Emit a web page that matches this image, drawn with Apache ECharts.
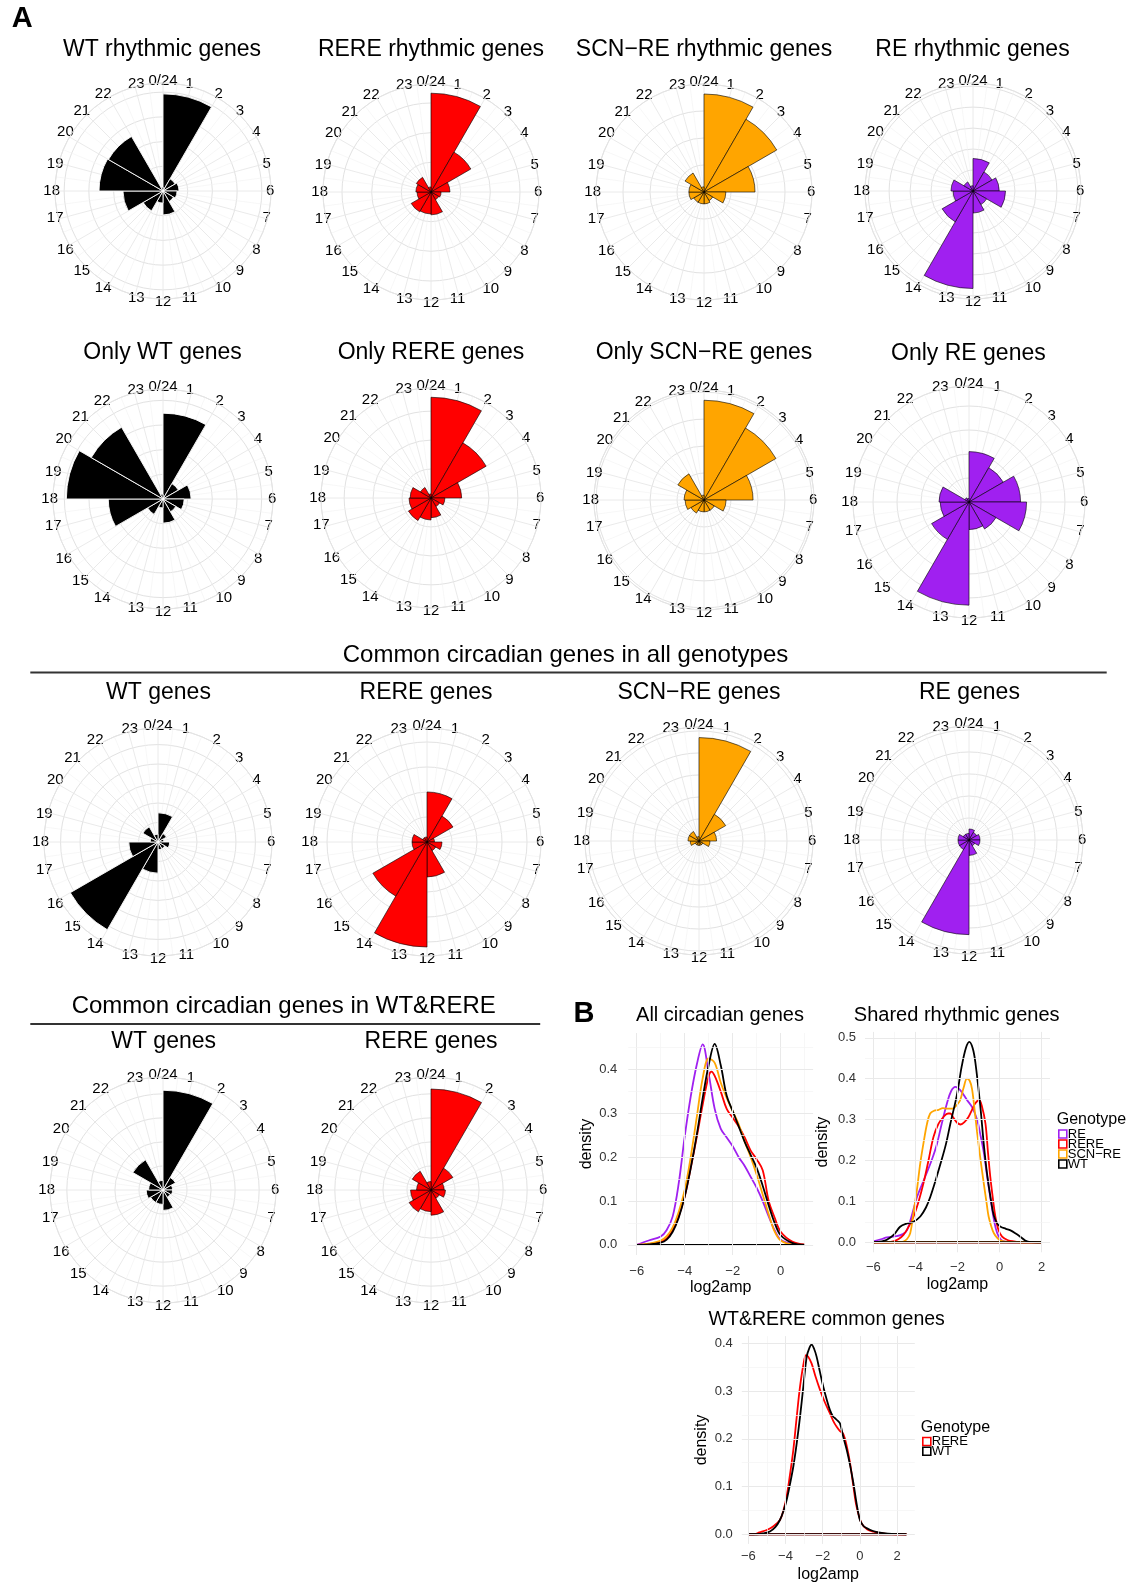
<!DOCTYPE html>
<html><head><meta charset="utf-8">
<script src="https://cdn.jsdelivr.net/npm/echarts@6/dist/echarts.min.js"></script>
<style>html,body{margin:0;padding:0;background:#fff}#c{width:1137px;height:1584px}</style>
</head><body><div id="c"></div>
<script>
// ---------- categories ----------
const hourBins = ['0-2','2-4','4-6','6-8','8-10','10-12','12-14','14-16','16-18','18-20','20-22','22-24'];
const genotypes = ['RE','RERE','SCN\u2212RE','WT'];

// ---------- rose data (gene counts per 2-h phase bin) ----------
const wtRhythmic   = [393, 57, 65, 57, 49, 97, 49, 93, 162, 259, 255, 16];
const rereRhythmic = [333,155, 64, 34, 30, 77, 74, 77, 47, 51, 57, 17];
const scnRhythmic  = [363,311,189, 81, 37, 44, 44, 44, 56, 56, 81, 19];
const reRhythmic   = [ 31, 21, 25, 31, 15, 21, 93, 34, 19, 21, 10,  5];
const onlyWT   = [174, 36, 57, 43, 30, 49, 18, 36,111,196,168, 10];
const onlyRERE = [174,110, 53, 24, 17, 34, 38, 45, 38, 36, 21,  7];
const onlySCN  = [185,154, 91, 41, 22, 22, 22, 28, 35, 37, 56,  9];
const onlyRE   = [ 42, 33, 43, 48, 26, 23, 86, 36, 24, 25,  4,  3];
const commonWT   = [15, 5, 3, 6, 4, 4,16,52,15, 4, 9, 4];
const commonRERE = [20,12, 3, 6, 4,14,42,25, 6, 6, 2, 2];
const commonSCN  = [47,14, 8, 5, 2, 2, 2, 2, 4, 5, 5, 2];
const commonRE   = [ 5, 4, 5, 5, 3, 7,43, 5, 5, 5, 3, 3];
const wtrereWT   = [83,12, 8, 8, 7,17,12,12,14,12,29, 8];
const wtrereRERE = [84,21,11,12, 8,21,18,21,17,12,18, 7];

// ---------- density data [log2amp, density] ----------
const allRE = [[-6,0],[-5.5,.01],[-5,.019],[-4.75,.034],[-4.5,.065],[-4.25,.14],[-4,.247],[-3.75,.338],[-3.5,.41],[-3.25,.457],[-3,.39],[-2.75,.31],[-2.5,.265],[-2.25,.245],[-2,.225],[-1.75,.2],[-1.5,.18],[-1.25,.155],[-1,.13],[-0.75,.1],[-0.5,.065],[-0.25,.033],[0,.012],[0.5,.002],[1,0]];
const allRERE = [[-6,0],[-5.5,.002],[-5,.007],[-4.75,.015],[-4.5,.033],[-4.25,.065],[-4,.11],[-3.75,.175],[-3.5,.245],[-3.25,.32],[-3,.385],[-2.88,.395],[-2.75,.385],[-2.5,.35],[-2.25,.31],[-2,.29],[-1.75,.27],[-1.5,.245],[-1.25,.215],[-1,.195],[-0.75,.17],[-0.5,.1],[-0.25,.062],[0,.03],[0.5,.007],[1,.001]];
const allSCN = [[-6,0],[-5.5,.003],[-5,.01],[-4.75,.02],[-4.5,.04],[-4.25,.075],[-4,.125],[-3.75,.2],[-3.5,.29],[-3.25,.38],[-3,.425],[-2.75,.415],[-2.5,.37],[-2.25,.335],[-2,.305],[-1.75,.275],[-1.5,.235],[-1.25,.2],[-1,.16],[-0.75,.115],[-0.5,.07],[-0.25,.03],[0,.01],[0.5,.001],[1,0]];
const allWT = [[-6,0],[-5.5,.001],[-5,.005],[-4.75,.012],[-4.5,.03],[-4.25,.062],[-4,.11],[-3.75,.175],[-3.5,.25],[-3.25,.335],[-3,.41],[-2.75,.458],[-2.5,.41],[-2.25,.34],[-2,.305],[-1.75,.27],[-1.5,.235],[-1.25,.205],[-1,.175],[-0.75,.135],[-0.5,.09],[-0.25,.05],[0,.022],[0.5,.004],[1,0]];

const sharedRE = [[-6,.002],[-5.6,.008],[-5.36,.012],[-4.89,.015],[-4.6,.02],[-4.4,.03],[-4.15,.07],[-3.93,.11],[-3.7,.14],[-3.46,.17],[-3.2,.205],[-2.98,.24],[-2.75,.29],[-2.5,.34],[-2.3,.37],[-2.1,.38],[-1.87,.372],[-1.55,.348],[-1.3,.33],[-1.07,.3],[-0.9,.26],[-0.75,.22],[-0.6,.165],[-0.44,.11],[-0.25,.05],[-0.11,.022],[0.05,.007],[0.2,.002],[0.5,0],[2,0]];
const sharedRERE = [[-6,0],[-5.3,0],[-5.05,.002],[-4.8,.008],[-4.57,.018],[-4.3,.04],[-4.09,.063],[-3.85,.1],[-3.62,.144],[-3.38,.2],[-3.14,.258],[-2.9,.29],[-2.66,.307],[-2.45,.315],[-2.34,.315],[-2.2,.305],[-2.03,.293],[-1.85,.288],[-1.65,.295],[-1.47,.307],[-1.3,.325],[-1.15,.34],[-0.97,.348],[-0.85,.335],[-0.67,.29],[-0.55,.22],[-0.44,.16],[-0.3,.1],[-0.2,.063],[-0.05,.03],[0.12,.014],[0.4,.005],[0.68,.002],[1,0],[2,0]];
const sharedSCN = [[-6,0],[-4.8,0],[-4.57,.002],[-4.4,.008],[-4.25,.022],[-4.1,.07],[-3.93,.128],[-3.78,.19],[-3.62,.242],[-3.45,.29],[-3.3,.315],[-3.1,.322],[-2.9,.324],[-2.7,.328],[-2.5,.327],[-2.3,.327],[-2.18,.328],[-2,.338],[-1.87,.348],[-1.7,.38],[-1.55,.4],[-1.42,.395],[-1.31,.375],[-1.2,.33],[-1.07,.27],[-0.9,.2],[-0.75,.144],[-0.6,.09],[-0.52,.063],[-0.4,.04],[-0.27,.022],[-0.1,.01],[0.05,.004],[0.4,.001],[1,0],[2,0]];
const sharedWT = [[-6,0],[-5.6,.002],[-5.36,.006],[-5,.02],[-4.73,.038],[-4.4,.046],[-4.1,.05],[-3.77,.063],[-3.5,.085],[-3.3,.11],[-3.05,.15],[-2.82,.19],[-2.55,.24],[-2.34,.29],[-2.03,.36],[-1.8,.43],[-1.6,.475],[-1.44,.49],[-1.28,.475],[-1.15,.44],[-0.91,.33],[-0.75,.24],[-0.6,.17],[-0.4,.1],[-0.27,.065],[-0.1,.045],[0.05,.038],[0.3,.033],[0.52,.029],[0.75,.022],[1,.013],[1.2,.005],[1.4,.001],[2,0]];

const commonDensRERE = [[-6,0],[-5.73,0],[-5.4,.004],[-5.01,.009],[-4.65,.017],[-4.3,.03],[-4.1,.052],[-3.94,.079],[-3.76,.125],[-3.58,.177],[-3.4,.245],[-3.22,.309],[-3.04,.355],[-2.9,.375],[-2.78,.372],[-2.6,.358],[-2.4,.332],[-2.14,.302],[-1.88,.276],[-1.61,.253],[-1.43,.237],[-1.25,.225],[-1.07,.216],[-0.89,.21],[-0.71,.185],[-0.53,.149],[-0.35,.1],[-0.18,.058],[0.09,.023],[0.4,.01],[0.72,.0056],[1.1,.003],[1.44,.001],[1.97,0],[2.5,0]];
const commonDensWT = [[-6,0],[-5.55,0],[-5.2,.002],[-4.84,.006],[-4.55,.015],[-4.3,.03],[-4.1,.05],[-3.94,.072],[-3.76,.105],[-3.58,.142],[-3.4,.19],[-3.22,.246],[-3.04,.31],[-2.86,.372],[-2.72,.39],[-2.6,.397],[-2.46,.388],[-2.33,.372],[-2.15,.34],[-1.97,.309],[-1.79,.283],[-1.61,.26],[-1.45,.247],[-1.34,.243],[-1.2,.238],[-1.07,.232],[-0.9,.205],[-0.71,.177],[-0.53,.145],[-0.35,.107],[-0.18,.065],[0,.03],[0.18,.018],[0.36,.013],[0.7,.007],[1.08,.0035],[1.5,.0015],[1.8,.001],[2.5,0]];

// tick labels
const xTicks1 = [-6,-4,-2,0];
const xTicks2 = [-6,-4,-2,0,2];
const yTicks1 = [0,0.1,0.2,0.3,0.4];
const yTicks2 = [0,0.1,0.2,0.3,0.4,0.5];

// ---------- styling ----------
const FONT = '"Liberation Sans", Arial, Helvetica, sans-serif';
const COLORS = {'RE':'#A020F0','RERE':'#FF0000','SCN\u2212RE':'#FFA500','WT':'#000000'};

const roses = [
  {t:'WT rhythmic genes',    g:'WT',   d:wtRhythmic,   cx:163, cy:191, r:108, step:100, max:437, tx:162, ty:49.5},
  {t:'RERE rhythmic genes',  g:'RERE', d:rereRhythmic, cx:431, cy:192, r:108, step:100, max:364, tx:431, ty:49.5},
  {t:'SCN\u2212RE rhythmic genes', g:'SCN\u2212RE', d:scnRhythmic, cx:704, cy:192, r:108, step:100, max:400, tx:704, ty:49.5},
  {t:'RE rhythmic genes',    g:'RE',   d:reRhythmic,   cx:973, cy:191, r:108, step:20,  max:103, tx:972.5, ty:49.5},
  {t:'Only WT genes',        g:'WT',   d:onlyWT,       cx:163, cy:499, r:110, step:50,  max:223, tx:162.6, ty:352.4},
  {t:'Only RERE genes',      g:'RERE', d:onlyRERE,     cx:431, cy:498, r:110, step:50,  max:190, tx:431, ty:352.4},
  {t:'Only SCN\u2212RE genes', g:'SCN\u2212RE', d:onlySCN, cx:704, cy:500, r:110, step:50, max:204, tx:704, ty:352.4},
  {t:'Only RE genes',        g:'RE',   d:onlyRE,       cx:969, cy:502, r:116, step:20,  max:96.7, tx:968.4, ty:353.4},
  {t:'WT genes',             g:'WT',   d:commonWT,     cx:158, cy:842, r:114, step:10,  max:58.5, tx:158.5, ty:692.7},
  {t:'RERE genes',           g:'RERE', d:commonRERE,   cx:427, cy:842, r:114, step:10,  max:45.6, tx:426, ty:692.7},
  {t:'SCN\u2212RE genes',    g:'SCN\u2212RE', d:commonSCN, cx:699, cy:841, r:114, step:10, max:51.8, tx:699, ty:692.7},
  {t:'RE genes',             g:'RE',   d:commonRE,     cx:969, cy:840, r:114, step:10,  max:51.8, tx:969.4, ty:692.7},
  {t:'WT genes',             g:'WT',   d:wtrereWT,     cx:163, cy:1190, r:113, step:20, max:94, tx:163.6, ty:1042},
  {t:'RERE genes',           g:'RERE', d:wtrereRERE,   cx:431, cy:1190, r:113, step:20, max:94, tx:431, ty:1042}
];

const polar = [], angleAxis = [], radiusAxis = [], series = [], graphic = [];

roses.forEach((p, i) => {
  const gi = 2*i, bi = 2*i + 1;
  polar.push({center:[p.cx, p.cy], radius:p.r});
  polar.push({center:[p.cx, p.cy], radius:p.r});
  angleAxis.push({
    polarIndex:gi, type:'value', min:0, max:24, interval:1, startAngle:90, clockwise:true,
    axisLine:{show:true, lineStyle:{color:'#e4e4e4', width:1}},
    axisTick:{show:false},
    axisLabel:{show:true, margin:-5, color:'#000', fontSize:15, fontFamily:FONT,
      formatter:v => v === 0 ? '0/24' : (v === 24 ? '' : String(v))},
    splitLine:{show:true, lineStyle:{color:'#e8e8e8', width:0.9}},
    minorTick:{show:false, splitNumber:2},
    minorSplitLine:{show:true, lineStyle:{color:'#f1f1f1', width:0.6}}
  });
  radiusAxis.push({
    polarIndex:gi, type:'value', min:0, max:p.max, interval:p.step,
    axisLine:{show:false}, axisTick:{show:false}, axisLabel:{show:false},
    splitLine:{show:true, lineStyle:{color:'#e2e2e2', width:1}}
  });
  angleAxis.push({polarIndex:bi, type:'category', data:hourBins, startAngle:90, clockwise:true, show:false});
  radiusAxis.push({polarIndex:bi, type:'value', min:0, max:p.max, show:false});
  const isWT = p.g === 'WT';
  series.push({
    type:'bar', coordinateSystem:'polar', polarIndex:bi, data:p.d,
    barCategoryGap:'0%', barGap:'0%', silent:true, animation:false,
    itemStyle:{color:COLORS[p.g], borderColor:isWT ? '#ffffff' : '#000000', borderWidth:isWT ? 0.9 : 0.6}
  });
  graphic.push({type:'text', x:p.tx, y:p.ty, silent:true,
    style:{text:p.t, fontSize:23, fontFamily:FONT, fill:'#000', align:'center', verticalAlign:'middle'}});
});

// ---------- density charts ----------
const dens = [
  {title:'All circadian genes', tx:720, ty:1015, box:{left:628.3, top:1033, width:184.8, height:222},
   x:[-6.35,1.35], y:[-0.023,0.483], xt:xTicks1, yt:yTicks1, xminor:[-5,-3,-1,1], yminor:[0.05,0.15,0.25,0.35,0.45],
   curves:[['RE',allRE],['RERE',allRERE],['SCN\u2212RE',allSCN],['WT',allWT]], xm:10, ym:11, xg:24.5, yg:34},
  {title:'Shared rhythmic genes', tx:956.7, ty:1015, box:{left:865, top:1031.9, width:185, height:220.4},
   x:[-6.4,2.4], y:[-0.0245,0.5145], xt:xTicks2, yt:yTicks2, xminor:[-5,-3,-1,1], yminor:[0.05,0.15,0.25,0.35,0.45],
   curves:[['RE',sharedRE],['RERE',sharedRERE],['SCN\u2212RE',sharedSCN],['WT',sharedWT]], xm:9, ym:9, xg:24, yg:34},
  {title:'WT&RERE common genes', tx:826.7, ty:1320, box:{left:741.8, top:1336.1, width:173, height:207.8},
   x:[-6.35,2.95], y:[-0.02,0.415], xt:xTicks2, yt:yTicks1, xminor:[-5,-3,-1,1], yminor:[0.05,0.15,0.25,0.35],
   curves:[['RERE',commonDensRERE],['WT',commonDensWT]], xm:6, ym:9, xg:23, yg:32}
];

const grid = [], xAxis = [], yAxis = [];
const fmtX = v => v < 0 ? '\u2212' + Math.abs(v) : String(v);
dens.forEach((c, k) => {
  grid.push(Object.assign({containLabel:false}, c.box));
  xAxis.push({gridIndex:k, type:'value', min:c.x[0], max:c.x[1],
    name:'log2amp', nameLocation:'middle', nameGap:c.xg, nameTextStyle:{fontSize:16, color:'#000', fontFamily:FONT},
    axisLine:{show:false}, axisTick:{show:false}, splitLine:{show:false},
    axisLabel:{customValues:c.xt, formatter:fmtX, fontSize:13, color:'#333', fontFamily:FONT, margin:c.xm}});
  yAxis.push({gridIndex:k, type:'value', min:c.y[0], max:c.y[1],
    name:'density', nameLocation:'middle', nameGap:c.yg, nameTextStyle:{fontSize:16, color:'#000', fontFamily:FONT},
    axisLine:{show:false}, axisTick:{show:false}, splitLine:{show:false},
    axisLabel:{customValues:c.yt, formatter:v => v.toFixed(1), fontSize:13, color:'#333', fontFamily:FONT, margin:c.ym}});
  const major = '#e9e9e9', minor = '#f3f3f3';
  const ml = [];
  c.xt.forEach(v => ml.push({xAxis:v, lineStyle:{color:major, width:1, type:'solid'}}));
  c.xminor.forEach(v => ml.push({xAxis:v, lineStyle:{color:minor, width:0.7, type:'solid'}}));
  c.yt.forEach(v => ml.push({yAxis:v, lineStyle:{color:major, width:1, type:'solid'}}));
  c.yminor.forEach(v => ml.push({yAxis:v, lineStyle:{color:minor, width:0.7, type:'solid'}}));
  series.push({type:'line', xAxisIndex:k, yAxisIndex:k, data:[], z:0, silent:true, animation:false,
    markLine:{silent:true, symbol:['none','none'], label:{show:false}, animation:false, data:ml}});
  c.curves.forEach(([name, pts]) => {
    const col = COLORS[name];
    series.push({type:'line', name, xAxisIndex:k, yAxisIndex:k, data:pts, smooth:0.35,
      showSymbol:false, symbol:'none', silent:true, animation:false, z:3,
      lineStyle:{color:col, width:1.8}, itemStyle:{color:col}});
    series.push({type:'line', name, xAxisIndex:k, yAxisIndex:k,
      data:[[pts[0][0], 0], [pts[pts.length-1][0], 0]],
      showSymbol:false, symbol:'none', silent:true, animation:false, z:3,
      lineStyle:{color:col, width:2}, itemStyle:{color:col}});
  });
  graphic.push({type:'text', x:c.tx, y:c.ty, silent:true,
    style:{text:c.title, fontSize:k === 2 ? 19.5 : 20, fontFamily:FONT, fill:'#000', align:'center', verticalAlign:'middle'}});
});

const legendItem = n => ({name:n, icon:'rect', itemStyle:{color:'#ffffff', borderColor:COLORS[n], borderWidth:1.6}});
const legendText = {fontSize:13, color:'#000', fontFamily:FONT, padding:[0,0,0,-4]};
const legend = [
  {data:genotypes.map(legendItem), orient:'vertical', left:1058, top:1127.5, itemWidth:8, itemHeight:8, itemGap:-3,
   padding:0, selectedMode:false, textStyle:legendText},
  {data:['RERE','WT'].map(legendItem), orient:'vertical', left:922, top:1435, itemWidth:8, itemHeight:8, itemGap:-3.3,
   padding:0, selectedMode:false, textStyle:legendText}
];

// ---------- static annotations ----------
graphic.push(
  {type:'text', x:22.3, y:18.7, silent:true, style:{text:'A', fontSize:29, fontWeight:'bold', fontFamily:FONT, fill:'#000', align:'center', verticalAlign:'middle'}},
  {type:'text', x:584, y:1014, silent:true, style:{text:'B', fontSize:29, fontWeight:'bold', fontFamily:FONT, fill:'#000', align:'center', verticalAlign:'middle'}},
  {type:'text', x:565.5, y:655.4, silent:true, style:{text:'Common circadian genes in all genotypes', fontSize:24, fontFamily:FONT, fill:'#000', align:'center', verticalAlign:'middle'}},
  {type:'line', silent:true, shape:{x1:30.3, y1:672.5, x2:1106.7, y2:672.5}, style:{stroke:'#333', lineWidth:2.2}},
  {type:'text', x:283.7, y:1006.8, silent:true, style:{text:'Common circadian genes in WT&RERE', fontSize:24, fontFamily:FONT, fill:'#000', align:'center', verticalAlign:'middle'}},
  {type:'line', silent:true, shape:{x1:30.3, y1:1024, x2:540.2, y2:1024}, style:{stroke:'#333', lineWidth:2.2}},
  {type:'text', x:1056.7, y:1120, silent:true, style:{text:'Genotype', fontSize:16, fontFamily:FONT, fill:'#000', align:'left', verticalAlign:'middle'}},
  {type:'text', x:920.7, y:1428, silent:true, style:{text:'Genotype', fontSize:16, fontFamily:FONT, fill:'#000', align:'left', verticalAlign:'middle'}}
);

const chart = echarts.init(document.getElementById('c'), null, {renderer:'canvas'});
chart.setOption({
  backgroundColor:'#ffffff', animation:false,
  polar, angleAxis, radiusAxis, grid, xAxis, yAxis, legend, series, graphic
});
</script></body></html>
